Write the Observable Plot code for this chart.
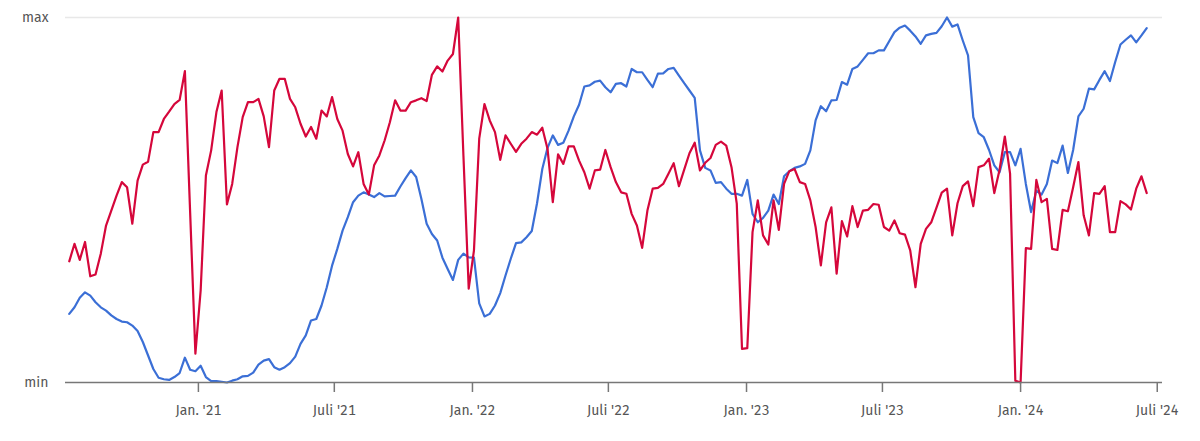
<!DOCTYPE html>
<html><head><meta charset="utf-8">
<script src="https://cdn.jsdelivr.net/npm/d3@7"></script>
<script src="https://cdn.jsdelivr.net/npm/@observablehq/plot@0.6"></script>
<style>
body{margin:0;background:#fff;}
</style></head><body><div id="chart"></div>
<script>
const startDate = "2020-07-13"; // first weekly observation
const blueValues = [
18.8,20.6,23.2,24.7,23.8,22.0,20.6,19.7,18.4,17.4,16.7,16.5,15.6,14.1,11.1,7.4,3.7,1.3,0.9,0.7,
1.5,2.6,6.8,3.5,3.1,4.6,1.5,0.4,0.4,0.2,0,0.5,0.9,1.7,1.8,2.7,4.9,6.0,6.4,4.2,
3.5,4.2,5.3,7.1,10.6,12.9,17.0,17.4,21.1,26.1,32.0,36.6,41.6,45.3,49.4,51.2,52.1,51.5,50.8,51.9,
51.0,51.1,51.2,53.7,56.0,58.1,56.3,50.3,43.5,40.7,38.9,34.2,31.1,28.1,33.6,35.3,34.3,34.2,21.7,18.1,
18.8,21.1,24.5,29.3,33.9,38.2,38.4,39.8,41.5,49.1,58.5,64.3,67.7,65.1,65.7,69.0,72.9,76.1,81.1,81.4,
82.4,82.7,80.9,79.5,81.8,82.0,81.1,85.9,85.0,85.0,82.9,80.9,84.6,84.7,85.9,86.2,84.1,82.0,80.0,78.0,
63.6,58.8,58.1,54.7,54.9,53.1,51.7,51.7,51.2,55.5,46.2,43.9,45.1,47.1,51.5,48.9,56.5,57.9,58.8,59.2,
59.9,63.6,71.8,75.7,74.3,77.3,77.4,82.3,81.6,85.9,86.6,88.4,90.2,90.2,91.0,91.0,93.5,96.0,97.2,97.8,
96.4,94.8,92.8,95.1,95.5,95.8,97.6,100,97.5,98.1,93.7,89.6,72.7,68.3,67.2,63.7,59.5,57.6,63.1,63.1,
59.5,64.0,54.4,46.7,52.6,51.5,54.4,60.8,60.1,64.9,57.4,63.7,72.9,75.0,80.5,80.3,82.9,85.3,82.6,87.8,
92.6,93.9,95.1,93.2,95.1,97.1
];
const redValues = [
33.2,38.0,33.6,38.5,29.1,29.6,35.3,43.0,47.1,51.2,54.9,53.5,43.5,55.3,59.7,60.5,68.6,68.6,72.2,74.2,
76.3,77.4,85.3,46.6,7.9,25.2,56.7,63.6,74.1,80.0,48.8,54.4,64.5,72.7,76.8,76.8,77.7,72.9,64.5,80.0,
83.2,83.2,77.7,75.4,70.9,67.4,70.0,66.8,74.5,72.9,78.2,72.2,69.0,62.6,59.2,63.1,54.4,51.5,59.5,62.2,
66.3,71.3,77.3,74.5,74.5,76.8,77.3,77.9,77.1,84.3,86.6,85.2,88.2,90.0,100,62,25.7,36.2,66.8,76.3,
71.8,68.6,61.0,67.7,65.4,63.2,65.4,66.8,68.6,67.9,69.8,64.0,49.4,62.5,59.9,64.7,64.7,60.8,57.6,53.1,
58.1,58.3,63.7,59.0,54.9,52.1,51.7,46.2,43.0,36.9,47.1,53.1,53.3,54.4,57.2,60.1,53.8,58.3,62.8,65.7,
58.1,60.2,61.5,65.1,66.0,64.9,59.0,49.0,9.2,9.4,41.2,49.9,40.3,37.8,49.9,41.8,54.4,57.9,58.5,54.9,
54.4,49.9,42.6,32.1,43.9,48.0,29.8,44.2,40.0,48.3,42.6,47.1,47.3,48.9,48.7,42.6,41.6,44.4,40.9,40.5,
36.2,26.1,38.0,42.1,43.9,47.9,52.0,53.1,40.3,49.1,53.8,55.1,48.3,59.0,59.5,61.3,51.9,58.3,67.4,57.2,
0.5,0,36.8,36.6,55.5,49.4,50.3,36.6,36.3,47.3,46.9,53.5,60.4,45.8,40.3,51.9,51.7,53.8,41.2,41.2,
49.7,48.8,47.4,53.1,56.5,51.9
];
const seriesNames = ["Reihe A", "Reihe B"];
const seriesColors = ["#3b6fd6", "#d5073b"];
const tickDates = ["2021-01-01","2021-07-01","2022-01-01","2022-07-01","2023-01-01","2023-07-01","2024-01-01","2024-07-01"];
const tickLabels = ["Jan. '21","Juli '21","Jan. '22","Juli '22","Jan. '23","Juli '23","Jan. '24","Juli '24"];
const yTickValues = [0, 100];
const yTickLabels = ["min", "max"];
const xDomain = ["2020-07-08", "2024-07-08"];

const start = new Date(startDate);
const weekDate = i => new Date(start.getTime() + i * 7 * 864e5);
const rows = [];
blueValues.forEach((v, i) => rows.push({date: weekDate(i), value: v, series: seriesNames[0]}));
redValues.forEach((v, i) => rows.push({date: weekDate(i), value: v, series: seriesNames[1]}));

const xTicks = tickDates.map(d => new Date(d));
const chart = Plot.plot({
  width: 1200, height: 441,
  marginLeft: 65, marginRight: 38, marginTop: 17, marginBottom: 59,
  style: {fontFamily: "'Fira Sans','Open Sans',sans-serif", fontSize: "14px", color: "#555", background: "#fff"},
  x: {type: "utc", domain: xDomain.map(d => new Date(d))},
  y: {domain: [0, 100]},
  color: {type: "categorical", domain: seriesNames, range: seriesColors},
  marks: [
    Plot.ruleY([100], {stroke: "#e8e8e8", strokeWidth: 1.5}),
    Plot.axisY(yTickValues, {tickSize: 0, tickPadding: 17, tickFormat: d => yTickLabels[yTickValues.indexOf(d)], label: null, fontSize: 14, fill: "#555"}),
    Plot.lineY(rows, {x: "date", y: "value", z: "series", stroke: "series", strokeWidth: 2.2, curve: "linear"}),
    Plot.ruleY([0], {stroke: "#777", strokeWidth: 1.5}),
    Plot.axisX(xTicks, {tickSize: 10, tickPadding: 13, tickFormat: d => tickLabels[xTicks.findIndex(t => +t === +d)], label: null, stroke: "#777", strokeWidth: 1.5, fill: "#555", fontSize: 14})
  ]
});
document.getElementById("chart").appendChild(chart);
</script></body></html>
